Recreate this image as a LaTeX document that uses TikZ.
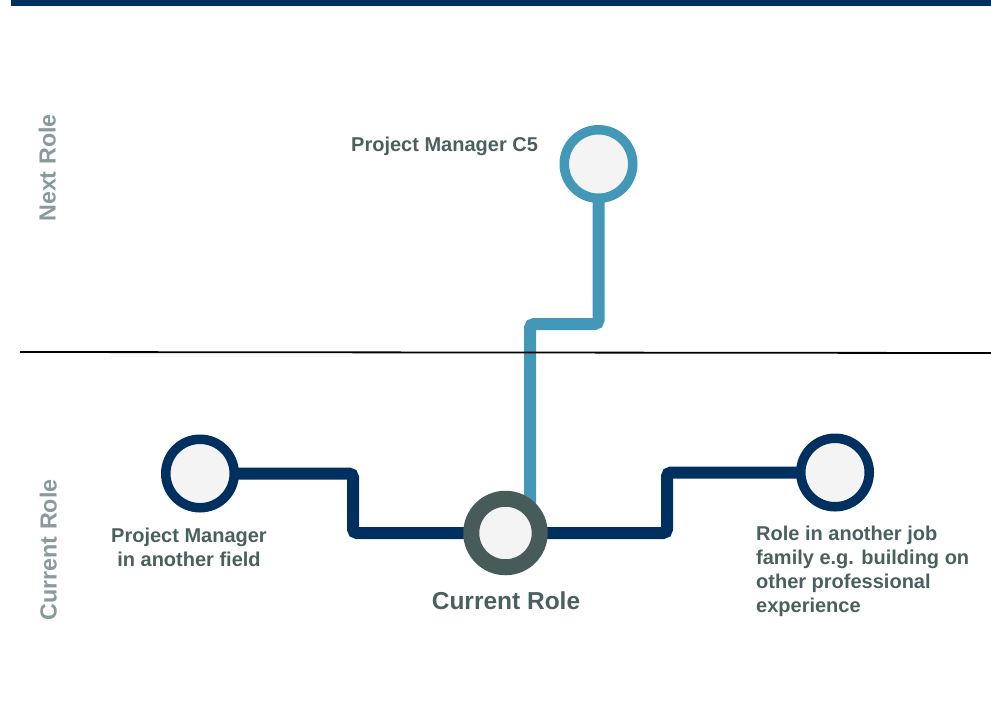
\documentclass[tikz,border=0pt]{standalone}
\usepackage{fontspec}
\setmainfont{Liberation Sans}
\usetikzlibrary{backgrounds}
\definecolor{navy}{RGB}{0,48,95}
\definecolor{teal}{RGB}{68,152,183}
\definecolor{ringgray}{RGB}{71,91,90}
\definecolor{labelcol}{RGB}{74,95,95}
\definecolor{sidecol}{RGB}{138,154,154}
\definecolor{stopfill}{RGB}{244,244,244}
\begin{document}
\begin{tikzpicture}[x=1pt,y=-1pt,
  stop/.style={circle,inner sep=0pt,minimum size=68.5pt,fill=stopfill,line width=9.5pt},
  track/.style={line width=12pt,rounded corners=4pt},
  lbl/.style={text=labelcol,font=\bfseries\fontsize{20}{24}\selectfont,inner sep=0pt},
  side/.style={text=sidecol,font=\bfseries\fontsize{23.3}{27}\selectfont,inner sep=0pt,rotate=90,anchor=base}]
  \useasboundingbox (0,0) rectangle (991,721);
  % header bar and level divider
  \fill[navy] (11,0) rectangle (991,6);
  \coordinate (divL) at (20,352);
  \coordinate (divR) at (991,353);
  \draw[line width=1.8pt,black] (divL) -- (divR);
  % level labels
  \node[side] (nextlvl) at (55.5,168) {Next Role};
  \node[side] (curlvl) at (56.5,550) {Current Role};
  % stops
  \node[stop,draw=teal] (next) at (598.5,164) {};
  \node[stop,draw=navy] (left) at (200,473.5) {};
  \node[stop,draw=navy] (right) at (835,472.5) {};
  \node[stop,draw=ringgray,line width=16pt] (cur) at (505.5,533) {};
  % bends of the tracks
  \coordinate (tA) at (530,533);
  \coordinate (tB) at (530,324);
  \coordinate (tC) at (598.5,324);
  \coordinate (lA) at (353,473.5);
  \coordinate (lB) at (353,533);
  \coordinate (rA) at (667,533);
  \coordinate (rB) at (667,472.5);
  \begin{scope}[on background layer]
    \draw[track,navy] (left.center) -- (lA) -- (lB) -- (cur.center);
    \draw[track,navy] (cur.center) -- (rA) -- (rB) -- (right.center);
    \draw[track,teal] (tA) -- (tB) -- (tC) -- (next.center);
  \end{scope}
  % labels
  \node[lbl,anchor=base west] (nextlbl) at (351,151.5) {Project Manager C5};
  \node[lbl,anchor=north,align=center] (leftlbl) at (189,527.5) {Project Manager\\in another field};
  \node[lbl,anchor=north west,align=left] (rightlbl) at (756,525.5) {Role in another job\\family e.g. building on\\other professional\\experience};
  \node[lbl,anchor=base,font=\bfseries\fontsize{24.5}{28}\selectfont] (curlbl) at (506,609.3) {Current Role};
\end{tikzpicture}
\end{document}
